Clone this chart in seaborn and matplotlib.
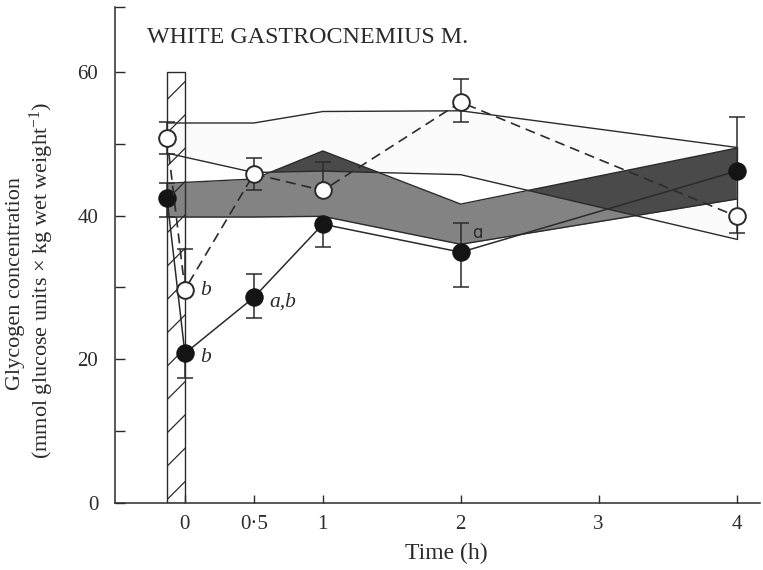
import numpy as np
import matplotlib
matplotlib.use("Agg")
import matplotlib.pyplot as plt
import seaborn as sns

# ---------------- data ----------------
time_x = [-0.13, 0.0, 0.5, 1.0, 2.0, 4.0]

open_y = [50.8, 29.7, 45.8, 43.5, 55.8, 39.9]
open_err_up = [2.2, 5.6, 2.2, 3.9, 3.2, 0.0]
open_err_dn = [2.2, 0.0, 2.3, 0.0, 2.7, 2.3]

filled_y = [42.4, 20.8, 28.6, 38.8, 34.9, 46.2]
filled_err_up = [2.1, 0.0, 3.3, 0.0, 4.1, 7.6]
filled_err_dn = [2.6, 3.4, 2.9, 3.2, 4.8, 0.0]

band_x = [-0.13, 0.5, 1.0, 2.0, 4.0]
bandC_upper = [52.9, 52.9, 54.5, 54.6, 49.5]
bandC_lower = [48.7, 46.0, 46.2, 45.7, 36.7]
bandA_upper = [44.5, 45.1, 49.0, 41.6, 49.4]
bandA_lower = [39.8, 39.8, 39.9, 36.0, 42.3]

exercise_period = [-0.13, 0.0]
exercise_height = 60

open_labels = ["b", "", "", "", ""]
filled_labels = ["b", "a,b", "", "ɑ", ""]

xtick_vals = [0, 0.5, 1, 2, 3, 4]
xtick_labels = ["0", "0·5", "1", "2", "3", "4"]
ytick_vals = [0, 10, 20, 30, 40, 50, 60]
ytick_labels = ["0", "", "20", "", "40", "", "60"]

title = "WHITE GASTROCNEMIUS M."
ylabel1 = "Glycogen concentration"
ylabel2 = "(mmol glucose units × kg wet weight$^{-1}$)"
xlabel = "Time (h)"

# ---------------- style ----------------
sns.set_style("ticks")
plt.rcParams["font.family"] = ["Liberation Serif", "DejaVu Serif"]
plt.rcParams["mathtext.fontset"] = "custom"
plt.rcParams["mathtext.rm"] = "Liberation Serif"
plt.rcParams["mathtext.it"] = "Liberation Serif:italic"
plt.rcParams["hatch.linewidth"] = 0.9
ink = "#2b2b2b"

fig = plt.figure(figsize=(7.63, 5.70), dpi=100)
ax = fig.add_axes([115 / 763, 1 - 502.7 / 570, 645 / 763, (502.7 - 6.7) / 570])

# ---------------- bands ----------------
ax.fill_between(band_x, bandC_lower, bandC_upper, color="#fbfbfb", lw=0, zorder=1)
ax.fill_between(band_x, bandA_lower, bandA_upper, color="#838383", lw=0, zorder=2)
xs = np.linspace(band_x[0], band_x[-1], 2000)
a_u = np.interp(xs, band_x, bandA_upper)
a_l = np.interp(xs, band_x, bandA_lower)
c_u = np.interp(xs, band_x, bandC_upper)
c_l = np.interp(xs, band_x, bandC_lower)
ov_lo = np.maximum(a_l, c_l)
ov_hi = np.minimum(a_u, c_u)
ax.fill_between(xs, ov_lo, ov_hi, where=ov_hi > ov_lo, interpolate=True,
                color="#4a4a4a", lw=0, zorder=3)
for arr in (bandC_upper, bandC_lower, bandA_upper, bandA_lower):
    ax.plot(band_x, arr, color=ink, lw=1.0, zorder=4)
ax.plot([band_x[-1]] * 2, [bandC_lower[-1], bandC_upper[-1]], color=ink, lw=1.0, zorder=4)

# ---------------- exercise bar ----------------
ax.bar([(exercise_period[0] + exercise_period[1]) / 2], [exercise_height],
       width=exercise_period[1] - exercise_period[0], fill=False, hatch="/",
       edgecolor=ink, lw=1.0, zorder=5)

# ---------------- series ----------------
ax.errorbar(time_x, open_y, yerr=[open_err_dn, open_err_up], fmt="none",
            ecolor=ink, elinewidth=1.1, capsize=5.5, capthick=1.1, zorder=6)
ax.errorbar(time_x, filled_y, yerr=[filled_err_dn, filled_err_up], fmt="none",
            ecolor=ink, elinewidth=1.1, capsize=5.5, capthick=1.1, zorder=6)

sns.lineplot(x=time_x, y=filled_y, ax=ax, sort=False, color=ink, lw=1.1,
             marker="o", markersize=12.5, markerfacecolor="#141414",
             markeredgecolor="#141414", zorder=7)
sns.lineplot(x=time_x, y=open_y, ax=ax, sort=False, color=ink, lw=1.2,
             linestyle=(0, (6, 3.6)), marker="o", markersize=12,
             markerfacecolor="white", markeredgecolor=ink, markeredgewidth=1.4,
             zorder=8)

# significance labels
for xi, yi, lab in zip(time_x[1:], open_y[1:], open_labels):
    if lab:
        ax.annotate(lab, (xi, yi), xytext=(11, -1), textcoords="offset points",
                    ha="left", va="center", fontsize=15.5, style="italic", color=ink)
for xi, yi, lab in zip(time_x[1:], filled_y[1:], filled_labels):
    if lab:
        if lab == "ɑ":
            ax.annotate(lab, (xi, yi), xytext=(8, 14), textcoords="offset points",
                        ha="left", va="center", fontsize=12, color=ink,
                        family=["DejaVu Sans"])
        else:
            ax.annotate(lab, (xi, yi), xytext=(11, -3), textcoords="offset points",
                        ha="left", va="center", fontsize=15.5, style="italic", color=ink)

# ---------------- axes ----------------
ax.set_xlim(-0.507, 4.17)
ax.set_ylim(0, 69.1)
ax.set_xticks(xtick_vals)
ax.set_xticklabels(xtick_labels)
ax.set_yticks(ytick_vals + [69.1])
ax.set_yticklabels(ytick_labels + [""])
ax.tick_params(axis="y", direction="in", length=7, width=1.0, color=ink,
               labelsize=15, pad=12, labelcolor=ink)
ax.tick_params(axis="x", direction="in", length=6, width=1.0, color=ink,
               labelsize=15, pad=9, labelcolor=ink)
for s in ("top", "right"):
    ax.spines[s].set_visible(False)
for s in ("left", "bottom"):
    ax.spines[s].set_color(ink)
    ax.spines[s].set_linewidth(1.1)
ax.set_xlabel("")
ax.set_ylabel("")
ax.patch.set_alpha(0)

ax.text((147 - 115) / 645, (502.7 - 43) / 496, title, transform=ax.transAxes,
        ha="left", va="baseline", fontsize=17.3, color=ink)
fig.text(16 / 763, 1 - 283 / 570, ylabel1, rotation=90, ha="center", va="center",
         fontsize=16, color=ink)
fig.text(42 / 763, 1 - 280 / 570, ylabel2, rotation=90, ha="center", va="center",
         fontsize=16, color=ink)
fig.text(446 / 763, 1 - 559 / 570, xlabel, ha="center", va="baseline",
         fontsize=17, color=ink)

fig.savefig("out.png", dpi=100, facecolor="white")
